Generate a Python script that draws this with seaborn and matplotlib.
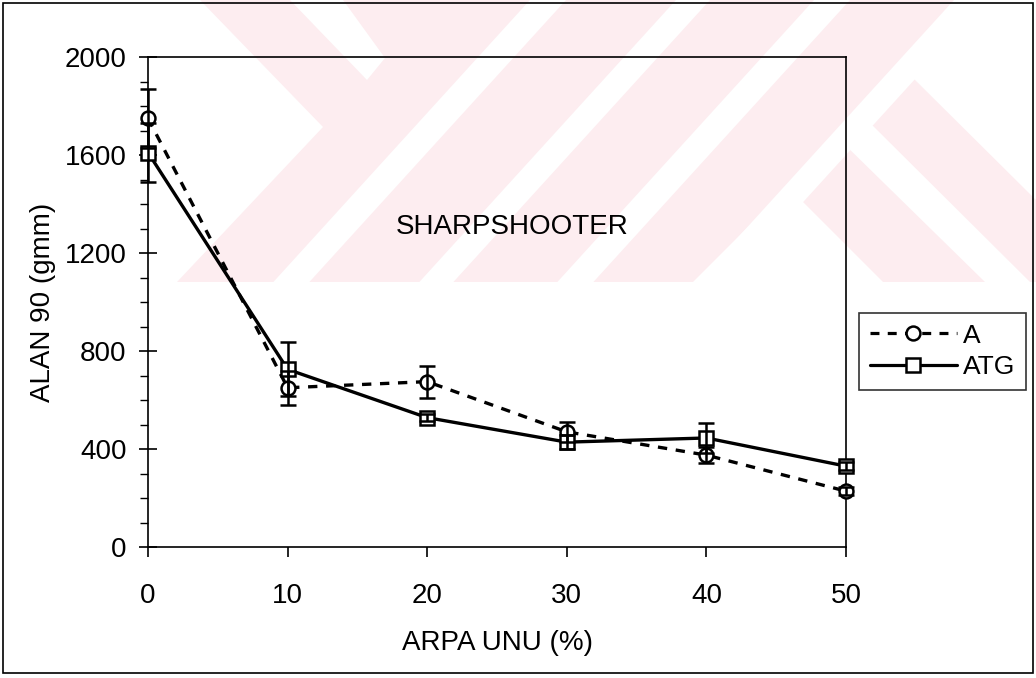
import numpy as np
import pandas as pd
import seaborn as sns
import matplotlib.pyplot as plt
from matplotlib.lines import Line2D
from matplotlib.patches import Polygon, Rectangle
from matplotlib.ticker import MultipleLocator

# arpa unu orani (%)
arpa_unu = [0, 10, 20, 30, 40, 50]
seriler = ['A', 'ATG']
a_ort = [1750, 650, 675, 470, 375, 228]
a_hata = [120, 70, 65, 40, 33, 15]
atg_ort = [1610, 725, 528, 428, 445, 330]
atg_hata = [120, 110, 15, 30, 60, 15]

df = pd.DataFrame({
    'arpa': arpa_unu * 2,
    'alan': a_ort + atg_ort,
    'hata': a_hata + atg_hata,
    'seri': ['A'] * len(arpa_unu) + ['ATG'] * len(arpa_unu),
})

sns.set_style('white')
plt.rcParams['font.family'] = ['Liberation Sans', 'DejaVu Sans']
plt.rcParams['text.color'] = 'black'
plt.rcParams['axes.labelcolor'] = 'black'
plt.rcParams['xtick.color'] = 'black'
plt.rcParams['ytick.color'] = 'black'

fig = plt.figure(figsize=(10.36, 6.78), dpi=100)

# arka plandaki soluk filigran (piksel koordinatlari)
bg = fig.add_axes([0, 0, 1, 1], zorder=0)
bg.set_xlim(0, 1036)
bg.set_ylim(678, 0)
bg.axis('off')
pembe = '#fdedf0'
bg.add_patch(Polygon([(200, 0), (960, 0), (903, 68), (1036, 200), (1036, 282),
                      (177, 282), (323, 127)], closed=True, fc=pembe, ec='none'))
bg.add_patch(Polygon([(290, 0), (343, 0), (385, 58), (367, 80)], closed=True, fc='white', ec='none'))
k = 0.91
for x0, x1 in [(530, 566), (676, 710), (814, 850), (954, 987)]:
    bg.add_patch(Polygon([(x0, 0), (x1, 0), (x1 - k * 282, 282), (x0 - k * 282, 282)],
                         closed=True, fc='white', ec='none'))
bg.add_patch(Polygon([(788, 187), (883, 282), (693, 282)], closed=True, fc='white', ec='none'))
bg.add_patch(Polygon([(860, 113), (1030, 282), (985, 282), (837, 137)], closed=True, fc='white', ec='none'))
bg.add_patch(Rectangle((3, 3), 1030, 670, fill=False, ec='black', lw=1.2))

ax = fig.add_axes([148 / 1036, 1 - 547 / 678, 698 / 1036, 490 / 678], zorder=1)
ax.set_facecolor('none')

sns.lineplot(data=df, x='arpa', y='alan', hue='seri', style='seri',
             palette={'A': 'black', 'ATG': 'black'},
             markers={'A': 'o', 'ATG': 's'}, dashes={'A': (2.8, 2.6), 'ATG': ''},
             markersize=10, markerfacecolor='white', markeredgecolor='black',
             markeredgewidth=1.8, linewidth=2.4, legend=False, ax=ax, zorder=3,
             clip_on=False)

for s in seriler:
    d = df[df['seri'] == s]
    eb = ax.errorbar(d['arpa'], d['alan'], yerr=d['hata'], fmt='none', ecolor='black',
                     elinewidth=1.8, capsize=6, capthick=1.8, zorder=4)
    for art in eb.lines[1] + eb.lines[2]:
        art.set_clip_on(False)

ax.set_xlim(0, 50)
ax.set_ylim(0, 2000)
ax.set_xticks(arpa_unu)
ax.set_yticks([0, 400, 800, 1200, 1600, 2000])
ax.yaxis.set_minor_locator(MultipleLocator(100))
ax.tick_params(axis='x', which='major', direction='out', length=7, width=1.2,
               pad=19, labelsize=20, bottom=True)
ax.tick_params(axis='y', which='major', direction='inout', length=13, width=1.2,
               pad=9, labelsize=20, left=True)
ax.tick_params(axis='y', which='minor', direction='out', length=6, width=1.0, left=True)
for sp in ax.spines.values():
    sp.set_color('black')
    sp.set_linewidth(1.2)

ax.set_xlabel('ARPA UNU (%)', fontsize=20, labelpad=15)
ax.set_ylabel('ALAN 90 (gmm)', fontsize=20, labelpad=6)
ax.text(26.1, 1305, 'SHARPSHOOTER', fontsize=20, ha='center', va='center')

tutamaklar = [
    Line2D([], [], color='black', ls=(0, (2.8, 2.6)), lw=2.3, marker='o', ms=10,
           mfc='white', mec='black', mew=1.8),
    Line2D([], [], color='black', ls='-', lw=2.3, marker='s', ms=10,
           mfc='white', mec='black', mew=1.8),
]
leg = ax.legend(tutamaklar, seriler, loc='upper left', bbox_to_anchor=(859 / 1036, 1 - 313 / 678),
                bbox_transform=fig.transFigure, fontsize=19, frameon=True, fancybox=False,
                handlelength=3.3, handletextpad=0.25, borderpad=0.4, labelspacing=0.3,
                borderaxespad=0)
leg.get_frame().set_edgecolor('black')
leg.get_frame().set_linewidth(1.2)

fig.savefig('out.png', dpi=100)
